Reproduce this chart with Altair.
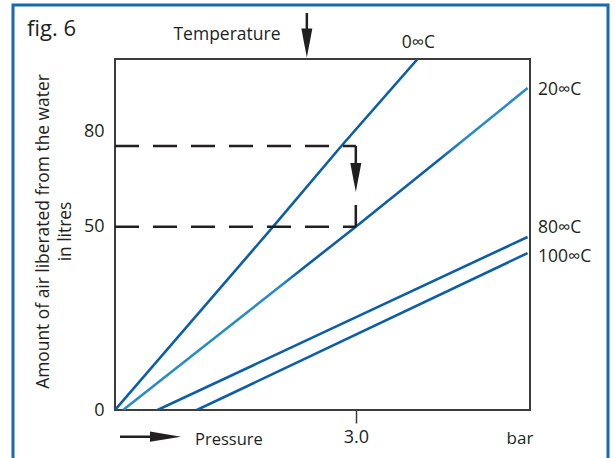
import altair as alt
import pandas as pd

# ---- values ----
series = ["0∞C", "20∞C", "80∞C", "100∞C"]
p_0 = [0.0, 1.97, 2.82, 3.77]
v_0 = [0, 50, 80, 112.3]
p_20 = [0.10, 3.0, 4.25, 5.14]
v_20 = [0, 50, 80, 101.5]
p_80 = [0.53, 5.14]
v_80 = [0, 47.2]
p_100 = [1.02, 5.14]
v_100 = [0, 42.8]

y_ticks = [0, 50, 80]
x_ticks = [3.0]
guide_levels = [80, 50]
guide_pressure = 3.0
arrow_level = 68.3          # centre of the down arrow between 80 and 50
temperature_marker = 2.39   # pressure where the "Temperature" arrow points

label_pos = {"0∞C": (3.78, 112.3), "20∞C": (5.17, 100.8), "80∞C": (5.17, 49.6), "100∞C": (5.17, 41.7)}

# ---- tables ----
rows = []
for name, ps, vs in zip(series, [p_0, p_20, p_80, p_100], [v_0, v_20, v_80, v_100]):
    for i, (p, v) in enumerate(zip(ps, vs)):
        rows.append({"series": name, "pressure": p, "volume": v, "order": i})
lines_df = pd.DataFrame(rows)
guides_df = pd.DataFrame({"level": guide_levels, "p0": [0.0] * len(guide_levels), "p1": [guide_pressure] * len(guide_levels)})
labels_df = pd.DataFrame({"series": list(label_pos.keys()),
                          "pressure": [v[0] for v in label_pos.values()],
                          "volume": [v[1] for v in label_pos.values()]})

FONT = "Open Sans"
TXT = "#231f20"
DARK = "#0b5ea8"
LIGHT = "#2a8cc4"
W, H = 415, 351

xscale = alt.Scale(domain=[0, 5.17], nice=False, zero=False)
yscale = alt.Scale(domain=[0, 50, 80, 112.3], range=[H, 167.7, 87, 0], nice=False, zero=False)
cscale = alt.Scale(domain=series, range=[DARK, LIGHT, DARK, DARK])

one = alt.Data(values=[{}])

frame = alt.Chart(one).mark_rect(filled=False, stroke="#1868b2", strokeWidth=3).encode(
    x=alt.value(-102), x2=alt.value(493), y=alt.value(-54), y2=alt.value(420))

xaxis = alt.Axis(values=x_ticks, format=".1f", title=None, grid=False, domain=False,
                 tickSize=13, tickWidth=1.5, tickColor="#3c3c3c", labelFontSize=18,
                 labelPadding=5, labelColor=TXT, labelFont=FONT)
yaxis = alt.Axis(values=y_ticks, grid=False, domain=False, ticks=False, labelPadding=11,
                 labelFontSize=18, labelColor=TXT, labelFont=FONT,
                 labelOffset={"expr": "datum.value == 80 ? -15 : 0"},
                 title=["Amount of air liberated from the water", "in litres"],
                 titleFont=FONT, titleFontSize=17.4, titleFontWeight="normal", titleColor=TXT,
                 titleX=-72, titleY=172, titleLineHeight=22, titleBaseline="middle",
                 titleAlign="center", titleAngle=270)

base = alt.Chart(lines_df).encode(
    x=alt.X("pressure:Q", scale=xscale, axis=xaxis),
    y=alt.Y("volume:Q", scale=yscale, axis=yaxis),
    order="order:Q",
)
lines = base.transform_filter(alt.datum.series != "20∞C").mark_line(strokeWidth=2.6, clip=True).encode(
    color=alt.Color("series:N", scale=cscale, legend=None), detail="series:N")

grad = alt.Gradient(gradient="linear", x1=0, x2=1, y1=0, y2=0, stops=[
    alt.GradientStop(offset=0, color=LIGHT), alt.GradientStop(offset=0.39, color=LIGHT),
    alt.GradientStop(offset=0.44, color=DARK), alt.GradientStop(offset=0.78, color=DARK),
    alt.GradientStop(offset=0.84, color=LIGHT), alt.GradientStop(offset=1, color=LIGHT)])
line20 = base.transform_filter(alt.datum.series == "20∞C").mark_line(strokeWidth=2.6, clip=True, stroke=grad)

dashes = alt.Chart(guides_df).mark_rule(strokeDash=[24, 14], strokeWidth=2.5, color=TXT).encode(
    x="p0:Q", x2="p1:Q", y="level:Q")

connector = alt.Chart(one).mark_rule(strokeDash=[17, 42, 30], strokeWidth=2.5, color=TXT).encode(
    x=alt.datum(guide_pressure), y=alt.datum(guide_levels[0]), y2=alt.datum(guide_levels[1]))

DOWN = "M -0.38 -1 L 0.38 -1 L 0 1 Z"
RIGHT = "M -1 -0.33 L 1 0 L -1 0.33 Z"

down_head = alt.Chart(one).mark_point(shape=DOWN, filled=True, size=841, color=TXT, opacity=1).encode(
    x=alt.datum(guide_pressure), y=alt.datum(arrow_level))

temp_shaft = alt.Chart(one).mark_rule(strokeWidth=2.5, color=TXT).encode(
    x=alt.datum(temperature_marker), y=alt.value(-46), y2=alt.value(-29))
temp_head = alt.Chart(one).mark_point(shape=DOWN, filled=True, size=841, color=TXT, opacity=1).encode(
    x=alt.datum(temperature_marker), y=alt.value(-16))

press_shaft = alt.Chart(one).mark_rule(strokeWidth=2.5, color=TXT).encode(
    x=alt.value(5), x2=alt.value(38), y=alt.value(377.7))
press_head = alt.Chart(one).mark_point(shape=RIGHT, filled=True, size=961, color=TXT, opacity=1).encode(
    x=alt.value(50.5), y=alt.value(377.7))

def note(text, x, y, align="left", size=16.5, baseline="middle"):
    return alt.Chart(one).mark_text(text=text, align=align, baseline=baseline, font=FONT,
                                    fontSize=size, color=TXT).encode(x=alt.value(x), y=alt.value(y))

notes = [
    note("fig. 6", -88, -23, size=22, baseline="alphabetic"),
    note("Temperature", 112, -24, align="center", size=17.5),
    note("Pressure", 80, 381),
    note("bar", 405, 380, align="center", size=17),
]

lab0 = alt.Chart(labels_df[labels_df.series == "0∞C"]).mark_text(
    align="center", baseline="middle", dy=-16, font=FONT, fontSize=17.5, color=TXT).encode(
    x="pressure:Q", y="volume:Q", text="series:N")
lab_r = alt.Chart(labels_df[labels_df.series != "0∞C"]).mark_text(
    align="left", baseline="middle", dx=8, font=FONT, fontSize=17.5, color=TXT).encode(
    x="pressure:Q", y="volume:Q", text="series:N")

chart = alt.layer(frame, lines, line20, dashes, connector, down_head, temp_shaft, temp_head,
                  press_shaft, press_head, lab0, lab_r, *notes).properties(
    width=W, height=H,
    autosize=alt.AutoSizeParams(type="none"),
    padding={"left": 115, "top": 59, "right": 85, "bottom": 48},
    background="white",
).configure_view(stroke="#3c3c3c", strokeWidth=2)

chart.save("out.html", embed_options={"renderer": "svg", "actions": False})
